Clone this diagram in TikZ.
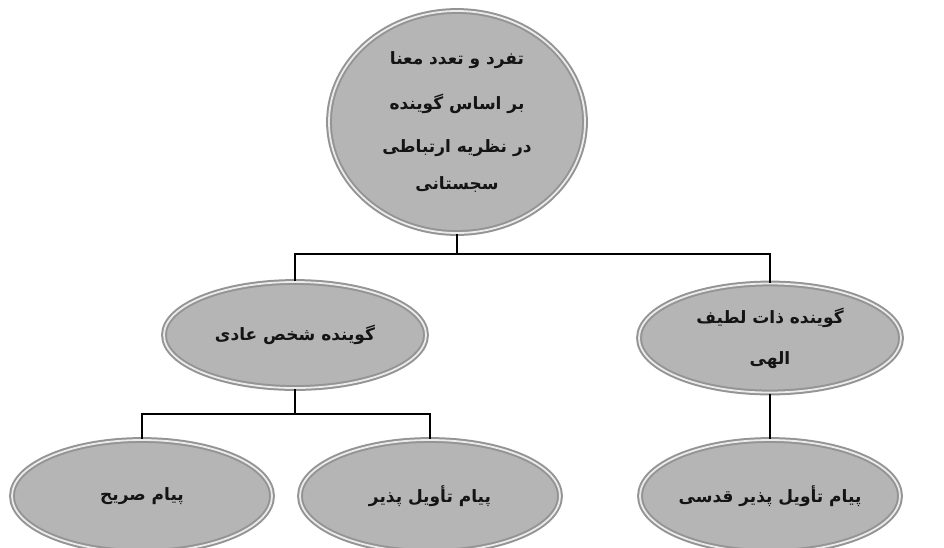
\documentclass[tikz,border=0pt]{standalone}
\usepackage{fontspec}
\newfontfamily\arabicfont[Script=Arabic]{DejaVu Sans}
\TeXXeTstate=1
\usetikzlibrary{shapes.geometric}
\newcommand{\fa}[1]{\beginR #1\endR}
\begin{document}
\begin{tikzpicture}[x=1pt,y=-1pt,
    bubble/.style={ellipse,draw=black!42,line width=2pt,double=black!8,
        double distance=1.8pt,fill=black!29,text=black!92,
        font=\arabicfont\bfseries\fontsize{17}{19}\selectfont,
        align=center,inner sep=0pt,minimum width=262pt,minimum height=106pt},
    conn/.style={line width=2.8pt,black}]
    \useasboundingbox (0,0) rectangle (944,547);
    \clip (0,0) rectangle (944,547);
    \node[bubble,minimum width=256pt,minimum height=222pt] (root) at (457,122)
        {\fa{تفرد و تعدد معنا}\\[24pt]\fa{بر اساس گوینده}\\[24pt]\fa{در نظریه ارتباطی}\\[18pt]\fa{سجستانی}};
    \node[bubble] (ml) at (295,335) {\fa{گوینده شخص عادی}};
    \node[bubble,minimum height=109pt] (mr) at (770,338) {\fa{گوینده ذات لطیف}\\[22pt]\fa{الهی}};
    \node[bubble,minimum width=260pt,minimum height=112pt] (bl) at (142,496) {\fa{پیام صریح}};
    \node[bubble,minimum width=260pt,minimum height=112pt] (bm) at (430,496) {\fa{پیام تأویل پذیر}};
    \node[bubble,minimum width=260pt,minimum height=112pt] (br) at (770,496) {\fa{پیام تأویل پذیر قدسی}};
    \draw[conn] (root.south) -- ++(0,20) coordinate (j1) -| (ml.north);
    \draw[conn] (j1) -| (mr.north);
    \draw[conn] (ml.south) -- ++(0,25) coordinate (j2) -| (bl.north);
    \draw[conn] (j2) -| (bm.north);
    \draw[conn] (mr.south) -- (br.north);
\end{tikzpicture}
\end{document}
